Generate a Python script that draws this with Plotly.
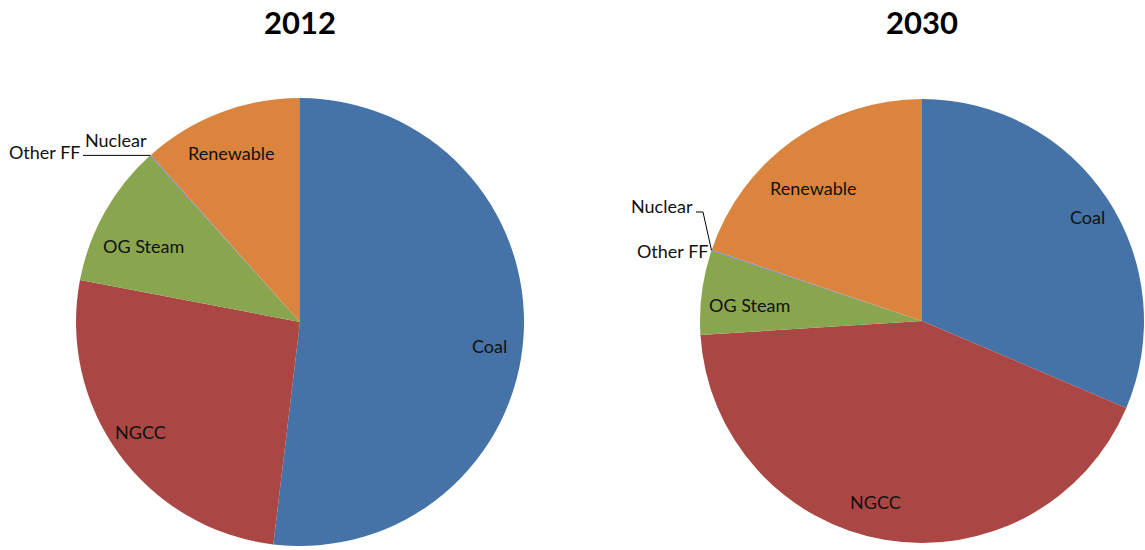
import math
import plotly.graph_objects as go

categories = ["Coal", "NGCC", "OG Steam", "Other FF", "Nuclear", "Renewable"]
values_2012 = [51.9, 26.1, 10.3, 0.05, 0.05, 11.6]
values_2030 = [31.4, 42.6, 6.1, 0.05, 0.05, 19.8]
years = ["2012", "2030"]

colors = ["#4572A7", "#AA4643", "#89A54E", "#71588F", "#4198AF", "#DB843D"]

W, H = 1145, 550
FONT = "Lato"
LBL = dict(family=FONT, size=18, color="#111111")

# label centres in screen pixels (layout only)
label_pos = [
    {"Coal": (489, 346), "NGCC": (140, 432), "OG Steam": (143, 246), "Renewable": (231, 153),
     "Other FF": (45, 152), "Nuclear": (116, 140)},
    {"Coal": (1087, 217), "NGCC": (875, 502), "OG Steam": (749, 305), "Renewable": (813, 188),
     "Nuclear": (662, 206), "Other FF": (673, 251)},
]


def px(X):
    return X / W


def py(Y):
    return 1 - Y / H


# pie geometry in screen pixels (center x, center y, radius)
pies = [(300, 322, 224), (922, 321, 222)]

fig = go.Figure()
annotations = []


def label(X, Y, text, font=LBL):
    annotations.append(dict(x=px(X), y=py(Y), xref="paper", yref="paper", text=text,
                            showarrow=False, xanchor="center", yanchor="middle", font=font))


for vals, year, (cx, cy, r), pos in zip([values_2012, values_2030], years, pies, label_pos):
    fig.add_trace(go.Pie(
        labels=categories, values=vals, sort=False, direction="clockwise",
        rotation=0, marker=dict(colors=colors, line=dict(width=0)),
        textinfo="none", hoverinfo="label+percent", showlegend=False,
        domain=dict(x=[px(cx - r), px(cx + r)], y=[py(cy + r), py(cy - r)]),
    ))
    for cat in categories:
        label(*pos[cat], cat)
    label(cx, 22, "<b>" + year + "</b>", dict(family=FONT, size=31, color="#000000"))


def edge_point(vals, idx, cx, cy, r):
    total = sum(vals)
    a = sum(vals[:idx + 1]) / total * 2 * math.pi
    return cx + r * math.sin(a), cy - r * math.cos(a)


shapes = []
cx, cy, r = pies[0]
ex, ey = edge_point(values_2012, 3, cx, cy, r)
shapes.append(dict(type="line", xref="paper", yref="paper", x0=px(83), y0=py(ey),
                   x1=px(ex), y1=py(ey), line=dict(color="#000", width=1)))

cx, cy, r = pies[1]
ex, ey = edge_point(values_2030, 3, cx, cy, r)
shapes.append(dict(type="path", xref="paper", yref="paper",
                   path=f"M {px(696)} {py(212)} L {px(703)} {py(212)} L {px(ex)} {py(ey)}",
                   line=dict(color="#000", width=1)))

fig.update_layout(width=W, height=H, margin=dict(l=0, r=0, t=0, b=0),
                  paper_bgcolor="white", plot_bgcolor="white",
                  annotations=annotations, shapes=shapes)
fig.write_html("out.html", config={"displayModeBar": False},
               post_script="document.body.style.margin='0';document.body.style.overflow='hidden';")
